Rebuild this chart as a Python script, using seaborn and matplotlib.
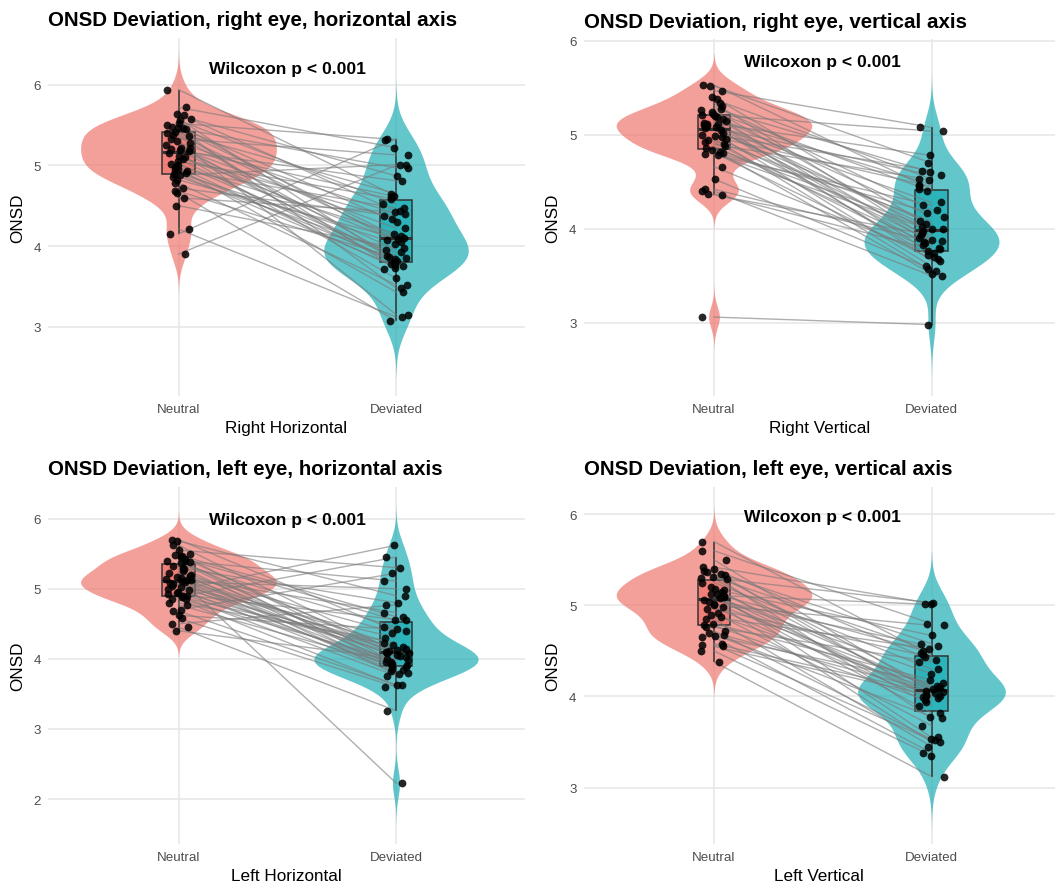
import numpy as np
import pandas as pd
import matplotlib
matplotlib.use("Agg")
import matplotlib.pyplot as plt
import seaborn as sns

# paired ONSD values, same subject on the same row (neutral gaze -> deviated gaze)
rh_neutral = [5.94, 5.72, 5.64, 5.62, 5.58, 5.56, 5.52, 5.50, 5.48, 5.47,
              5.46, 5.45, 5.42, 5.40, 5.38, 5.36, 5.33, 5.30, 5.28, 5.25,
              5.22, 5.21, 5.20, 5.19, 5.18, 5.15, 5.12, 5.10, 5.08, 5.05,
              5.02, 5.00, 4.98, 4.96, 4.94, 4.93, 4.90, 4.89, 4.88, 4.86,
              4.82, 4.78, 4.72, 4.68, 4.66, 4.60, 4.50, 4.21, 4.15, 3.90]
rh_deviated = [4.62, 5.22, 4.43, 4.87, 3.80, 4.52, 5.32, 4.05, 4.30, 3.48,
               4.97, 4.12, 3.72, 4.65, 4.09, 3.86, 5.13, 3.15, 4.40, 3.77,
               4.22, 3.95, 4.61, 3.84, 4.81, 3.60, 4.07, 4.34, 3.78, 4.58,
               3.88, 4.15, 3.73, 3.43, 4.47, 3.82, 4.03, 3.75, 5.01, 3.92,
               4.10, 3.52, 4.37, 3.85, 3.07, 4.42, 3.98, 3.12, 5.33, 5.00]

rv_neutral = [5.53, 5.52, 5.47, 5.40, 5.38, 5.34, 5.31, 5.28, 5.26, 5.24,
              5.22, 5.21, 5.20, 5.19, 5.17, 5.15, 5.13, 5.12, 5.11, 5.10,
              5.09, 5.08, 5.07, 5.05, 5.02, 5.00, 4.99, 4.98, 4.96, 4.94,
              4.92, 4.90, 4.88, 4.86, 4.84, 4.82, 4.81, 4.80, 4.79, 4.66,
              4.53, 4.42, 4.40, 4.37, 4.36, 3.06]
rv_deviated = [4.42, 4.70, 5.08, 4.02, 4.53, 3.88, 4.20, 4.60, 3.95, 4.40,
               3.74, 5.04, 4.13, 3.85, 4.47, 3.66, 4.00, 4.78, 3.80, 4.28,
               3.70, 4.57, 3.90, 4.05, 3.60, 4.62, 3.87, 4.45, 3.55, 4.08,
               3.76, 4.52, 3.83, 4.00, 3.52, 4.17, 3.68, 3.98, 4.25, 3.72,
               3.57, 3.86, 3.50, 3.78, 3.93, 2.98]

lh_neutral = [5.70, 5.68, 5.62, 5.55, 5.50, 5.48, 5.47, 5.45, 5.42, 5.40,
              5.39, 5.38, 5.36, 5.33, 5.30, 5.28, 5.25, 5.22, 5.20, 5.18,
              5.16, 5.15, 5.14, 5.13, 5.12, 5.11, 5.10, 5.08, 5.06, 5.04,
              5.02, 5.00, 4.98, 4.96, 4.94, 4.92, 4.90, 4.89, 4.88, 4.86,
              4.85, 4.80, 4.77, 4.70, 4.68, 4.62, 4.58, 4.50, 4.45, 4.40]
lh_deviated = [4.40, 4.90, 4.10, 5.30, 3.95, 4.60, 4.06, 4.55, 3.88, 5.11,
               4.12, 3.92, 4.45, 3.84, 4.80, 4.02, 3.78, 4.37, 4.09, 3.96,
               4.66, 2.23, 4.20, 3.90, 4.14, 3.82, 5.00, 4.04, 3.86, 4.30,
               4.11, 3.80, 5.62, 4.08, 3.93, 4.56, 3.76, 4.17, 5.45, 3.98,
               3.62, 4.23, 3.91, 5.22, 3.63, 4.42, 3.60, 4.77, 3.26, 4.00]

lv_neutral = [5.70, 5.60, 5.50, 5.42, 5.40, 5.38, 5.37, 5.35, 5.33, 5.31,
              5.30, 5.29, 5.25, 5.20, 5.18, 5.17, 5.15, 5.13, 5.12, 5.11,
              5.10, 5.09, 5.08, 5.06, 5.04, 5.02, 5.00, 4.98, 4.96, 4.92,
              4.90, 4.87, 4.85, 4.80, 4.78, 4.76, 4.72, 4.70, 4.68, 4.66,
              4.65, 4.58, 4.57, 4.55, 4.50, 4.38]
lv_deviated = [4.45, 4.80, 4.05, 5.02, 4.40, 3.98, 4.58, 4.10, 3.76, 4.50,
               5.03, 4.02, 4.30, 3.90, 4.67, 4.09, 3.55, 4.48, 4.00, 5.01,
               3.82, 4.25, 3.99, 4.55, 3.50, 4.12, 4.78, 3.96, 4.43, 3.68,
               4.08, 4.52, 3.45, 4.18, 3.94, 4.38, 3.53, 4.06, 3.78, 4.15,
               3.38, 4.04, 3.52, 4.01, 3.35, 3.12]

titles = ["ONSD Deviation, right eye, horizontal axis",
          "ONSD Deviation, right eye, vertical axis",
          "ONSD Deviation, left eye, horizontal axis",
          "ONSD Deviation, left eye, vertical axis"]
xlabels = ["Right Horizontal", "Right Vertical", "Left Horizontal", "Left Vertical"]
condiciones = ["Neutral", "Deviated"]
paleta = {"Neutral": "#EF7770", "Deviated": "#20AFB6"}


def nrd0(kde):
    # bandwidth like R's density() default
    d = kde.dataset[0]
    sd = d.std(ddof=1)
    q75, q25 = np.percentile(d, [75, 25])
    lo = min(sd, (q75 - q25) / 1.34)
    return 0.9 * lo * d.size ** -0.2 / sd


plt.rcParams["font.family"] = ["Liberation Sans", "DejaVu Sans"]
np.random.seed(7)

W, H = 1055, 887
fig = plt.figure(figsize=(W / 100, H / 100), dpi=100)

# panel boxes in pixels: left, top, right, bottom
rects = [(48, 39, 525, 397), (583.5, 40, 1055, 397),
         (48, 488, 525, 845), (583.5, 488, 1055, 845)]
ylims = [(2.14, 6.58), (2.22, 6.02), (1.36, 6.45), (2.38, 6.30)]
yticks = [[3, 4, 5, 6], [3, 4, 5, 6], [2, 3, 4, 5, 6], [3, 4, 5, 6]]
p_pos = [6.20, 5.78, 5.98, 5.98]
datos = [(rh_neutral, rh_deviated), (rv_neutral, rv_deviated),
         (lh_neutral, lh_deviated), (lv_neutral, lv_deviated)]

for i in range(4):
    l, t, r, b = rects[i]
    ax = fig.add_axes([l / W, 1 - b / H, (r - l) / W, (b - t) / H])
    neutral, deviated = datos[i]
    n = len(neutral)
    df = pd.DataFrame({
        "id": np.tile(np.arange(n), 2),
        "cond": np.repeat(condiciones, n),
        "onsd": np.concatenate([neutral, deviated]),
    })
    df["pos"] = df["cond"].map({"Neutral": 0, "Deviated": 1})

    sns.violinplot(data=df, x="cond", y="onsd", hue="cond", order=condiciones,
                   hue_order=condiciones, palette=paleta, inner=None, linewidth=0,
                   cut=3, bw_method=nrd0, density_norm="area", common_norm=True,
                   width=0.9, saturation=1, legend=False, ax=ax)
    for c in ax.collections:
        c.set_alpha(0.7)
        c.set_zorder(1)

    sns.boxplot(data=df, x="cond", y="onsd", hue="cond", order=condiciones,
                hue_order=condiciones, palette=paleta, width=0.15, showfliers=False,
                showcaps=False, linecolor="#333333", linewidth=1.1, saturation=1,
                legend=False, medianprops=dict(linewidth=2.2), ax=ax)
    for p in ax.patches:
        fc = p.get_facecolor()
        p.set_facecolor((fc[0], fc[1], fc[2], 0.8))

    sns.lineplot(data=df, x="pos", y="onsd", units="id", estimator=None,
                 color="#7a7a7a", alpha=0.6, linewidth=1.0, legend=False, ax=ax)

    sns.stripplot(data=df, x="cond", y="onsd", order=condiciones, color="black",
                  jitter=0.06, size=5.6, alpha=0.85, linewidth=0, zorder=4, ax=ax)

    ax.set_xlim(-0.6, -0.6 + (r - l) / 217.5)
    ax.set_ylim(*ylims[i])
    ax.set_yticks(yticks[i])
    ax.set_xticks([0, 1])
    ax.set_xticklabels(condiciones)
    ax.set_facecolor("white")
    ax.grid(True, color="#E6E6E6", linewidth=1.1)
    ax.set_axisbelow(True)
    for s in ax.spines.values():
        s.set_visible(False)
    ax.tick_params(length=0, labelsize=9.6, labelcolor="#4D4D4D", pad=5)

    ax.text(0.5, p_pos[i], "Wilcoxon p < 0.001", ha="center", va="center",
            fontsize=12.6, fontweight="bold", color="black")
    ax.set_title(titles[i], loc="left", fontsize=14.8, fontweight="bold", pad=9)
    ax.set_xlabel(xlabels[i], fontsize=12.3, labelpad=4)
    ax.set_ylabel("ONSD", fontsize=12.3, labelpad=6)

fig.savefig("out.png", dpi=100, facecolor="white")
